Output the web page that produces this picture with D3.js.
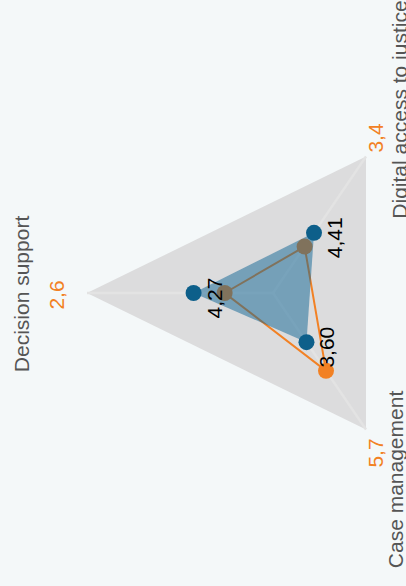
<!DOCTYPE html>
<html>
<head>
<meta charset="utf-8">
<script src="https://cdn.jsdelivr.net/npm/d3@7"></script>
<style>
  html, body { margin: 0; padding: 0; background: #f4f8f9; }
  svg { display: block; }
  text { font-family: "Liberation Sans", Arial, Helvetica, sans-serif; }
</style>
</head>
<body>
<svg id="chart" width="406" height="586"></svg>
<script>
// ---- data ----
const axes = ["Decision support", "Digital access to justice", "Case management"];
const blueValues = [4.27, 4.41, 3.60];
const orangeValues = [2.6, 3.4, 5.7];
const maxValue = 10;

// ---- layout ----
const W = 406, H = 586;
const cx = 273, cy = 293;
const rX = 186, rY = 157.6;
const blue = "#0e6494", blueDot = "#0d5f8a", orange = "#f28124";

const svg = d3.select("#chart");
svg.append("rect").attr("width", W).attr("height", H).attr("fill", "#f4f8f9");

const rScale = d3.scaleLinear().domain([0, maxValue]).range([0, 1]);
const angle = i => Math.PI + i * 2 * Math.PI / axes.length;
const pt = (v, i) => [cx + rX * rScale(v) * Math.cos(angle(i)), cy + rY * rScale(v) * Math.sin(angle(i))];

const fmt = d => d.toString().replace(".", ",");
const fmt2 = d => d.toFixed(2).replace(".", ",");

// grid background
const outer = axes.map((a, i) => pt(maxValue, i));
svg.append("polygon")
  .attr("points", outer.map(p => p.join(",")).join(" "))
  .attr("fill", "#dcdcdd");

// spokes
svg.selectAll("line.spoke").data(axes).join("line")
  .attr("class", "spoke")
  .attr("x1", cx).attr("y1", cy)
  .attr("x2", (d, i) => pt(maxValue, i)[0])
  .attr("y2", (d, i) => pt(maxValue, i)[1])
  .attr("stroke", "#e3e3e3").attr("stroke-width", 2.5);

// orange series (drawn below translucent blue area)
const line = d3.line().curve(d3.curveLinearClosed);
svg.append("path")
  .attr("d", line(orangeValues.map((v, i) => pt(v, i))))
  .attr("fill", "none").attr("stroke", orange).attr("stroke-width", 2);
svg.selectAll("circle.orange").data(orangeValues).join("circle")
  .attr("class", "orange")
  .attr("cx", (d, i) => pt(d, i)[0]).attr("cy", (d, i) => pt(d, i)[1])
  .attr("r", 8).attr("fill", orange);

// blue area
svg.append("path")
  .attr("d", line(blueValues.map((v, i) => pt(v, i))))
  .attr("fill", blue).attr("fill-opacity", 0.5).attr("stroke", "none");
svg.selectAll("circle.blue").data(blueValues).join("circle")
  .attr("class", "blue")
  .attr("cx", (d, i) => pt(d, i)[0]).attr("cy", (d, i) => pt(d, i)[1])
  .attr("r", 8).attr("fill", blueDot);

// value labels (blue series)
svg.selectAll("text.val").data(blueValues).join("text")
  .attr("class", "val")
  .attr("transform", (d, i) => {
    const p = pt(d, i);
    return `translate(${p[0] + 28},${p[1] + 5}) rotate(-90)`;
  })
  .attr("text-anchor", "middle")
  .attr("font-size", 21).attr("fill", "#000")
  .text(d => fmt2(d));

// axis labels and orange values
const labelOff = [[-58, 1], [40.5, -47], [37, 50]];
const orangeOff = [[-23, 2], [17, -18.5], [17, 23.5]];

svg.selectAll("text.axis").data(axes).join("text")
  .attr("class", "axis")
  .attr("transform", (d, i) => {
    const p = pt(maxValue, i);
    return `translate(${p[0] + labelOff[i][0]},${p[1] + labelOff[i][1]}) rotate(-90)`;
  })
  .attr("text-anchor", "middle")
  .attr("font-size", 21).attr("fill", "#555")
  .text(d => d);

svg.selectAll("text.oval").data(orangeValues).join("text")
  .attr("class", "oval")
  .attr("transform", (d, i) => {
    const p = pt(maxValue, i);
    return `translate(${p[0] + orangeOff[i][0]},${p[1] + orangeOff[i][1]}) rotate(-90)`;
  })
  .attr("text-anchor", "middle")
  .attr("font-size", 21).attr("fill", orange)
  .text(d => fmt(d));
</script>
</body>
</html>
